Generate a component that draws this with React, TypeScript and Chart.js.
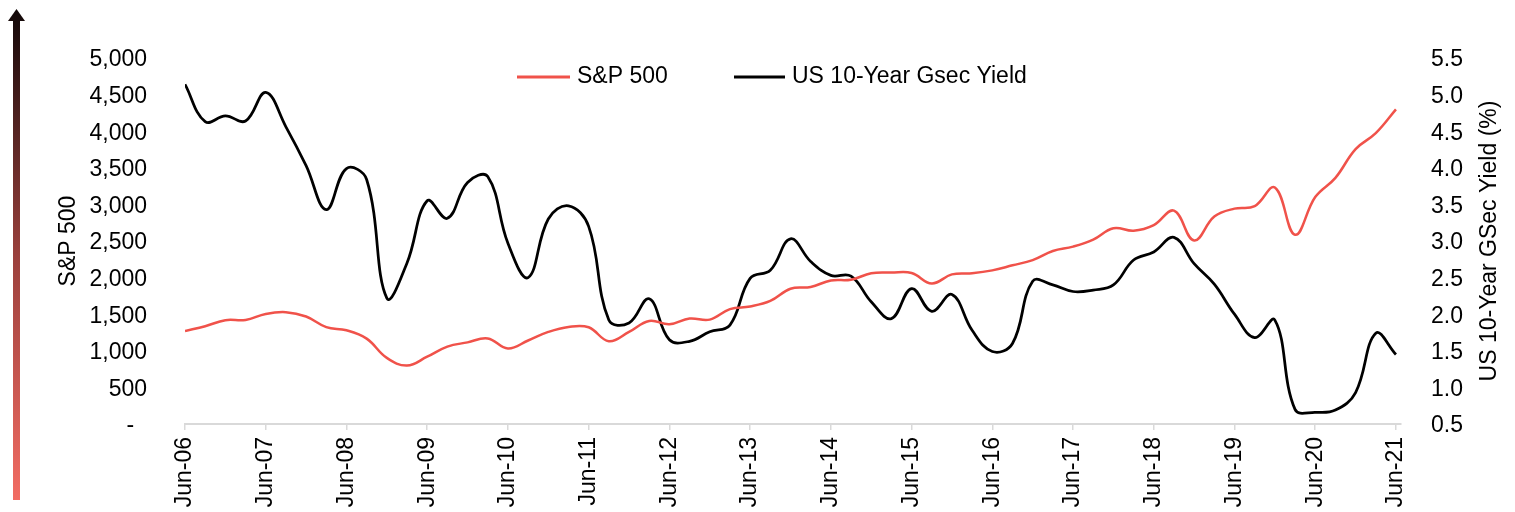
import React, { useEffect, useRef } from 'react';
import { Chart, registerables } from 'chart.js';

Chart.register(...registerables);

// June-of-year tick labels (one every 4 quarters)
const yearLabels = [
  'Jun-06', 'Jun-07', 'Jun-08', 'Jun-09', 'Jun-10', 'Jun-11', 'Jun-12', 'Jun-13',
  'Jun-14', 'Jun-15', 'Jun-16', 'Jun-17', 'Jun-18', 'Jun-19', 'Jun-20', 'Jun-21',
];

// Quarterly S&P 500 level, Jun-06 .. Jun-21
const spx = [
  1270, 1336, 1418, 1421, 1503, 1527, 1468, 1323, 1280, 1166, 903, 798, 919, 1057, 1115, 1169,
  1031, 1141, 1258, 1326, 1321, 1131, 1258, 1408, 1362, 1441, 1426, 1569, 1606, 1682, 1848, 1872,
  1960, 1972, 2059, 2068, 2063, 1920, 2044, 2060, 2099, 2168, 2239, 2363, 2423, 2519, 2674, 2641,
  2718, 2914, 2507, 2834, 2942, 2977, 3231, 2585, 3100, 3363, 3756, 3973, 4298,
];

// Quarterly US 10-year yield (%), Jun-06 .. Jun-21
const yld = [
  5.14, 4.63, 4.71, 4.64, 5.03, 4.56, 4.03, 3.43, 3.99, 3.84, 2.22, 2.70, 3.55, 3.31, 3.80, 3.88,
  2.97, 2.50, 3.30, 3.48, 3.20, 1.92, 1.88, 2.21, 1.65, 1.63, 1.76, 1.85, 2.49, 2.60, 3.03, 2.72,
  2.53, 2.52, 2.17, 1.94, 2.35, 2.04, 2.27, 1.78, 1.49, 1.60, 2.45, 2.40, 2.31, 2.33, 2.40, 2.74,
  2.85, 3.05, 2.69, 2.41, 2.00, 1.68, 1.92, 0.70, 0.66, 0.69, 0.93, 1.74, 1.45,
];

const seriesNames = ['S&P 500', 'US 10-Year Gsec Yield'];
const leftTitle = 'S&P 500';
const rightTitle = 'US 10-Year GSec Yield (%)';

const FONT_FAMILY = "'Liberation Sans', Arial, Helvetica, sans-serif";
const RED = '#f0524a';
const BLACK = '#000000';

export default function App() {
  const ref = useRef<HTMLCanvasElement>(null);

  useEffect(() => {
    document.body.style.margin = '0';
    const canvas = ref.current;
    if (!canvas) return;

    const font = { family: FONT_FAMILY, size: 23 };

    const arrowPlugin = {
      id: 'gradArrow',
      beforeDraw(chart: any) {
        const ctx = chart.ctx;
        ctx.save();
        const g = ctx.createLinearGradient(0, 500, 0, 10);
        g.addColorStop(0, '#f26c63');
        g.addColorStop(0.5, '#9a403c');
        g.addColorStop(1, '#120808');
        ctx.fillStyle = g;
        ctx.fillRect(13, 19, 7, 481);
        ctx.beginPath();
        ctx.moveTo(16.5, 9);
        ctx.lineTo(25, 21);
        ctx.lineTo(8, 21);
        ctx.closePath();
        ctx.fill();
        ctx.restore();
      },
    };

    const legendPlugin = {
      id: 'customLegend',
      afterDraw(chart: any) {
        const ctx = chart.ctx;
        const items = [
          { x0: 517, x1: 570, tx: 577 },
          { x0: 734, x1: 785, tx: 792 },
        ];
        const y = 77;
        ctx.save();
        chart.data.datasets.forEach((ds: any, i: number) => {
          const it = items[i];
          ctx.strokeStyle = ds.borderColor;
          ctx.lineWidth = 3;
          ctx.beginPath();
          ctx.moveTo(it.x0, y);
          ctx.lineTo(it.x1, y);
          ctx.stroke();
          ctx.fillStyle = '#000';
          ctx.font = `23px ${FONT_FAMILY}`;
          ctx.textBaseline = 'middle';
          ctx.textAlign = 'left';
          ctx.fillText(ds.label, it.tx, y);
        });
        // right axis title, reading bottom-to-top
        const area = chart.chartArea;
        ctx.translate(1490, (area.top + area.bottom) / 2);
        ctx.rotate(-Math.PI / 2);
        ctx.textAlign = 'center';
        ctx.textBaseline = 'middle';
        ctx.fillStyle = '#000';
        ctx.font = `23px ${FONT_FAMILY}`;
        ctx.fillText(rightTitle, 0, 0);
        ctx.restore();
      },
    };

    const chart = new Chart(canvas, {
      type: 'line',
      data: {
        datasets: [
          {
            label: seriesNames[0],
            data: spx.map((v, i) => ({ x: i, y: v })),
            borderColor: RED,
            backgroundColor: RED,
            borderWidth: 2.5,
            pointRadius: 0,
            tension: 0.4,
            yAxisID: 'y',
          },
          {
            label: seriesNames[1],
            data: yld.map((v, i) => ({ x: i, y: v })),
            borderColor: BLACK,
            backgroundColor: BLACK,
            borderWidth: 2.75,
            pointRadius: 0,
            tension: 0.4,
            yAxisID: 'y1',
          },
        ],
      },
      options: {
        responsive: false,
        animation: false,
        events: [],
        layout: { padding: { top: 58, left: 0, right: 0, bottom: 0 } },
        plugins: {
          legend: { display: false },
          tooltip: { enabled: false },
        },
        scales: {
          x: {
            type: 'linear',
            min: 0,
            max: spx.length - 1 + 0.25,
            afterBuildTicks: (axis: any) => {
              axis.ticks = yearLabels.map((_, k) => ({ value: k * 4 }));
            },
            afterFit: (s: any) => {
              s.height = 88;
            },
            ticks: {
              autoSkip: false,
              minRotation: 90,
              maxRotation: 90,
              padding: 7,
              color: '#000',
              font,
              callback: (_v: any, index: number) => yearLabels[index],
            },
            grid: {
              drawOnChartArea: false,
              drawTicks: true,
              tickLength: 6,
              color: '#d9d9d9',
              lineWidth: 1.5,
            },
            border: { color: '#d9d9d9', width: 2 },
          },
          y: {
            position: 'left',
            min: 0,
            max: 5000,
            afterFit: (s: any) => {
              s.width = 185;
            },
            ticks: {
              stepSize: 500,
              padding: 30,
              labelOffset: 2,
              color: '#000',
              font,
              callback: (v: any) => (Number(v) === 0 ? '-  ' : Number(v).toLocaleString('en-US')),
            },
            grid: { display: false },
            border: { display: false },
            title: {
              display: true,
              text: leftTitle,
              color: '#000',
              font,
              padding: { top: 55, bottom: 0 },
            },
          },
          y1: {
            position: 'right',
            min: 0.5,
            max: 5.5,
            afterFit: (s: any) => {
              s.width = 114;
            },
            ticks: {
              stepSize: 0.5,
              padding: 22,
              labelOffset: 2,
              color: '#000',
              font,
              callback: (v: any) => Number(v).toFixed(1),
            },
            grid: { display: false },
            border: { display: false },
            title: { display: false },
          },
        },
      },
      plugins: [arrowPlugin, legendPlugin],
    } as any);

    return () => {
      chart.destroy();
    };
  }, []);

  return (
    <div style={{ width: 1515, height: 512, position: 'relative' }}>
      <canvas ref={ref} width={1515} height={512} style={{ display: 'block' }} />
    </div>
  );
}
